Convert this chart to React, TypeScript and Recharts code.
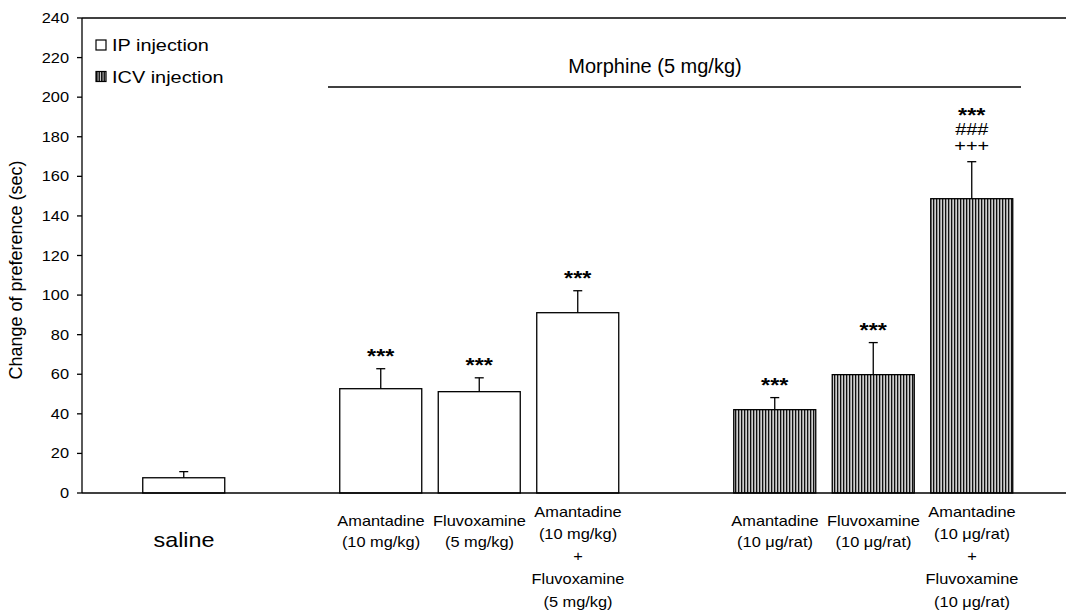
import React from 'react';
import { BarChart, Bar, XAxis, YAxis, ReferenceLine } from 'recharts';

const W = 1068;
const H = 611;
const SX = 1.17;
const FONT = '"Liberation Sans", Arial, Helvetica, sans-serif';

// ---- data ----
const categories = ['saline', 'gap1', 'amaIP', 'fluIP', 'comboIP', 'gap2', 'amaICV', 'fluICV', 'comboICV'];
const tickLabels: string[][] = [
  ['saline'],
  [],
  ['Amantadine', '(10 mg/kg)'],
  ['Fluvoxamine', '(5 mg/kg)'],
  ['Amantadine', '(10 mg/kg)', '+', 'Fluvoxamine', '(5 mg/kg)'],
  [],
  ['Amantadine', '(10 \u03bcg/rat)'],
  ['Fluvoxamine', '(10 \u03bcg/rat)'],
  ['Amantadine', '(10 \u03bcg/rat)', '+', 'Fluvoxamine', '(10 \u03bcg/rat)'],
];
const ipValues = [7.7, null, 52.7, 51.2, 91.1, null, null, null, null];
const ipSem = [3.1, null, 10.1, 7, 11.1, null, null, null, null];
const ipMarks: string[][] = [[], [], ['***'], ['***'], ['***'], [], [], [], []];
const icvValues = [null, null, null, null, null, null, 42.1, 59.8, 148.7];
const icvSem = [null, null, null, null, null, null, 6.1, 16.2, 18.7];
const icvMarks: string[][] = [[], [], [], [], [], [], ['***'], ['***'], ['***', '###', '+++']];
const yTicks = [0, 20, 40, 60, 80, 100, 120, 140, 160, 180, 200, 220, 240];
const legendItems = ['IP injection', 'ICV injection'];
const groupTitle = 'Morphine (5 mg/kg)';
const yTitle = 'Change of preference (sec)';

const data = categories.map((c, i) => ({ cat: c, ip: ipValues[i], icv: icvValues[i] }));

function STxt({ x, y, size, children, anchor = 'middle', sx = SX }: any) {
  return (
    <g transform={`translate(${x},${y}) scale(${sx},1)`}>
      <text x={0} y={0} fontSize={size} textAnchor={anchor} fill="#000" fontFamily={FONT}>
        {children}
      </text>
    </g>
  );
}

function makeShape(values: (number | null)[], sems: (number | null)[], marks: string[][], fill: string) {
  return (props: any) => {
    const { x, y, width, height, index } = props;
    const v = values[index];
    if (v == null || !height) return <g />;
    const k = height / v;
    const cx = x + width / 2;
    const errY = y - (sems[index] || 0) * k;
    const lines = marks[index] || [];
    // compute glyph centres from the bottom line upwards
    const centers: number[] = [];
    let c = errY - 17;
    for (let j = lines.length - 1; j >= 0; j--) {
      centers[j] = c;
      const above = j - 1 >= 0 ? lines[j - 1] : '';
      c -= above.startsWith('*') ? 18 : 16;
    }
    return (
      <g>
        <rect x={x} y={y} width={width} height={height} fill={fill} stroke="#000" strokeWidth={1.3} />
        <line x1={cx} x2={cx} y1={y} y2={errY} stroke="#000" strokeWidth={1.3} />
        <line x1={cx - 4.5} x2={cx + 4.5} y1={errY} y2={errY} stroke="#000" strokeWidth={1.3} />
        {lines.length > 0 && (
          <g transform={`translate(${cx},0) scale(${SX},1)`}>
            <text x={0} y={0} textAnchor="middle" fill="#000" fontFamily={FONT}>
              {lines.map((t, j) => {
                const isStar = t.startsWith('*');
                const size = isStar ? 20 : 17;
                const base = centers[j] + (isStar ? 0.57 * size : 0.355 * size);
                return (
                  <tspan key={j} x={0} y={base} fontSize={size} fontWeight={isStar ? 'bold' : 'normal'}>
                    {t}
                  </tspan>
                );
              })}
            </text>
          </g>
        )}
      </g>
    );
  };
}

const YTick = (props: any) => {
  const { x, y, payload } = props;
  return (
    <STxt x={x} y={y + 5} size={14} anchor="end">
      {payload.value}
    </STxt>
  );
};

const XTick = (props: any) => {
  const { x, y, payload } = props;
  const idx = categories.indexOf(payload.value);
  const lines = tickLabels[idx] || [];
  if (lines.length === 0) return <g />;
  if (lines.length === 1) {
    return (
      <STxt x={x} y={y + 54} size={20}>
        {lines[0]}
      </STxt>
    );
  }
  const offs = lines.length === 2 ? [33, 54] : [24, 46, 68, 91, 114];
  return (
    <g>
      {lines.map((t, j) => (
        <STxt key={j} x={x} y={y + offs[j]} size={14}>
          {t}
        </STxt>
      ))}
    </g>
  );
};

export default function App() {
  return (
    <div style={{ position: 'absolute', left: 0, top: 0, width: W, height: H, background: '#fff', fontFamily: FONT }}>
      <BarChart width={W} height={H} data={data} margin={{ top: 18, right: 2, left: 0, bottom: 0 }}>
        <XAxis
          dataKey="cat"
          type="category"
          interval={0}
          height={118}
          tickSize={0}
          tickMargin={0}
          tickLine={false}
          axisLine={{ stroke: '#000', strokeWidth: 1.3 }}
          padding={{ left: 52.75, right: 44.75 }}
          tick={<XTick />}
        />
        <YAxis
          type="number"
          domain={[0, 240]}
          ticks={yTicks}
          width={82}
          tickSize={5}
          tickMargin={8}
          axisLine={{ stroke: '#000', strokeWidth: 1.3 }}
          tickLine={{ stroke: '#000', strokeWidth: 1.3 }}
          tick={<YTick />}
        />
        <ReferenceLine y={240} stroke="#000" strokeWidth={1.3} />
        <Bar dataKey="ip" stackId="a" barSize={82} isAnimationActive={false} shape={makeShape(ipValues, ipSem, ipMarks, '#fff')} />
        <Bar dataKey="icv" stackId="a" barSize={82} isAnimationActive={false} shape={makeShape(icvValues, icvSem, icvMarks, 'url(#vhatch)')} />
      </BarChart>
      <svg width={W} height={H} style={{ position: 'absolute', left: 0, top: 0, pointerEvents: 'none' }}>
        <defs>
          <pattern id="vhatch" patternUnits="userSpaceOnUse" width={3} height={10}>
            <rect x={0} y={0} width={3} height={10} fill="#cfcfcf" />
            <rect x={0} y={0} width={1.3} height={10} fill="#111" />
          </pattern>
          <pattern id="vhatchSmall" patternUnits="userSpaceOnUse" x={96} width={2.5} height={10}>
            <rect x={0} y={0} width={2.5} height={10} fill="#ddd" />
            <rect x={0} y={0} width={1.6} height={10} fill="#111" />
          </pattern>
        </defs>
        <rect x={96} y={40} width={10} height={10} fill="#fff" stroke="#000" strokeWidth={1.2} />
        <STxt x={112} y={51} size={17} anchor="start">
          {legendItems[0]}
        </STxt>
        <rect x={96} y={71.5} width={10} height={10} fill="url(#vhatchSmall)" stroke="#000" strokeWidth={1.2} />
        <STxt x={112} y={82.5} size={17} anchor="start">
          {legendItems[1]}
        </STxt>
        <STxt x={655} y={73} size={20} sx={1}>
          {groupTitle}
        </STxt>
        <line x1={328} x2={1021} y1={87} y2={87} stroke="#000" strokeWidth={1.3} />
        <text
          transform="translate(15.5,270) rotate(-90)"
          textAnchor="middle"
          dominantBaseline="central"
          fontSize={18}
          fontFamily={FONT}
          fill="#000"
        >
          {yTitle}
        </text>
      </svg>
    </div>
  );
}
